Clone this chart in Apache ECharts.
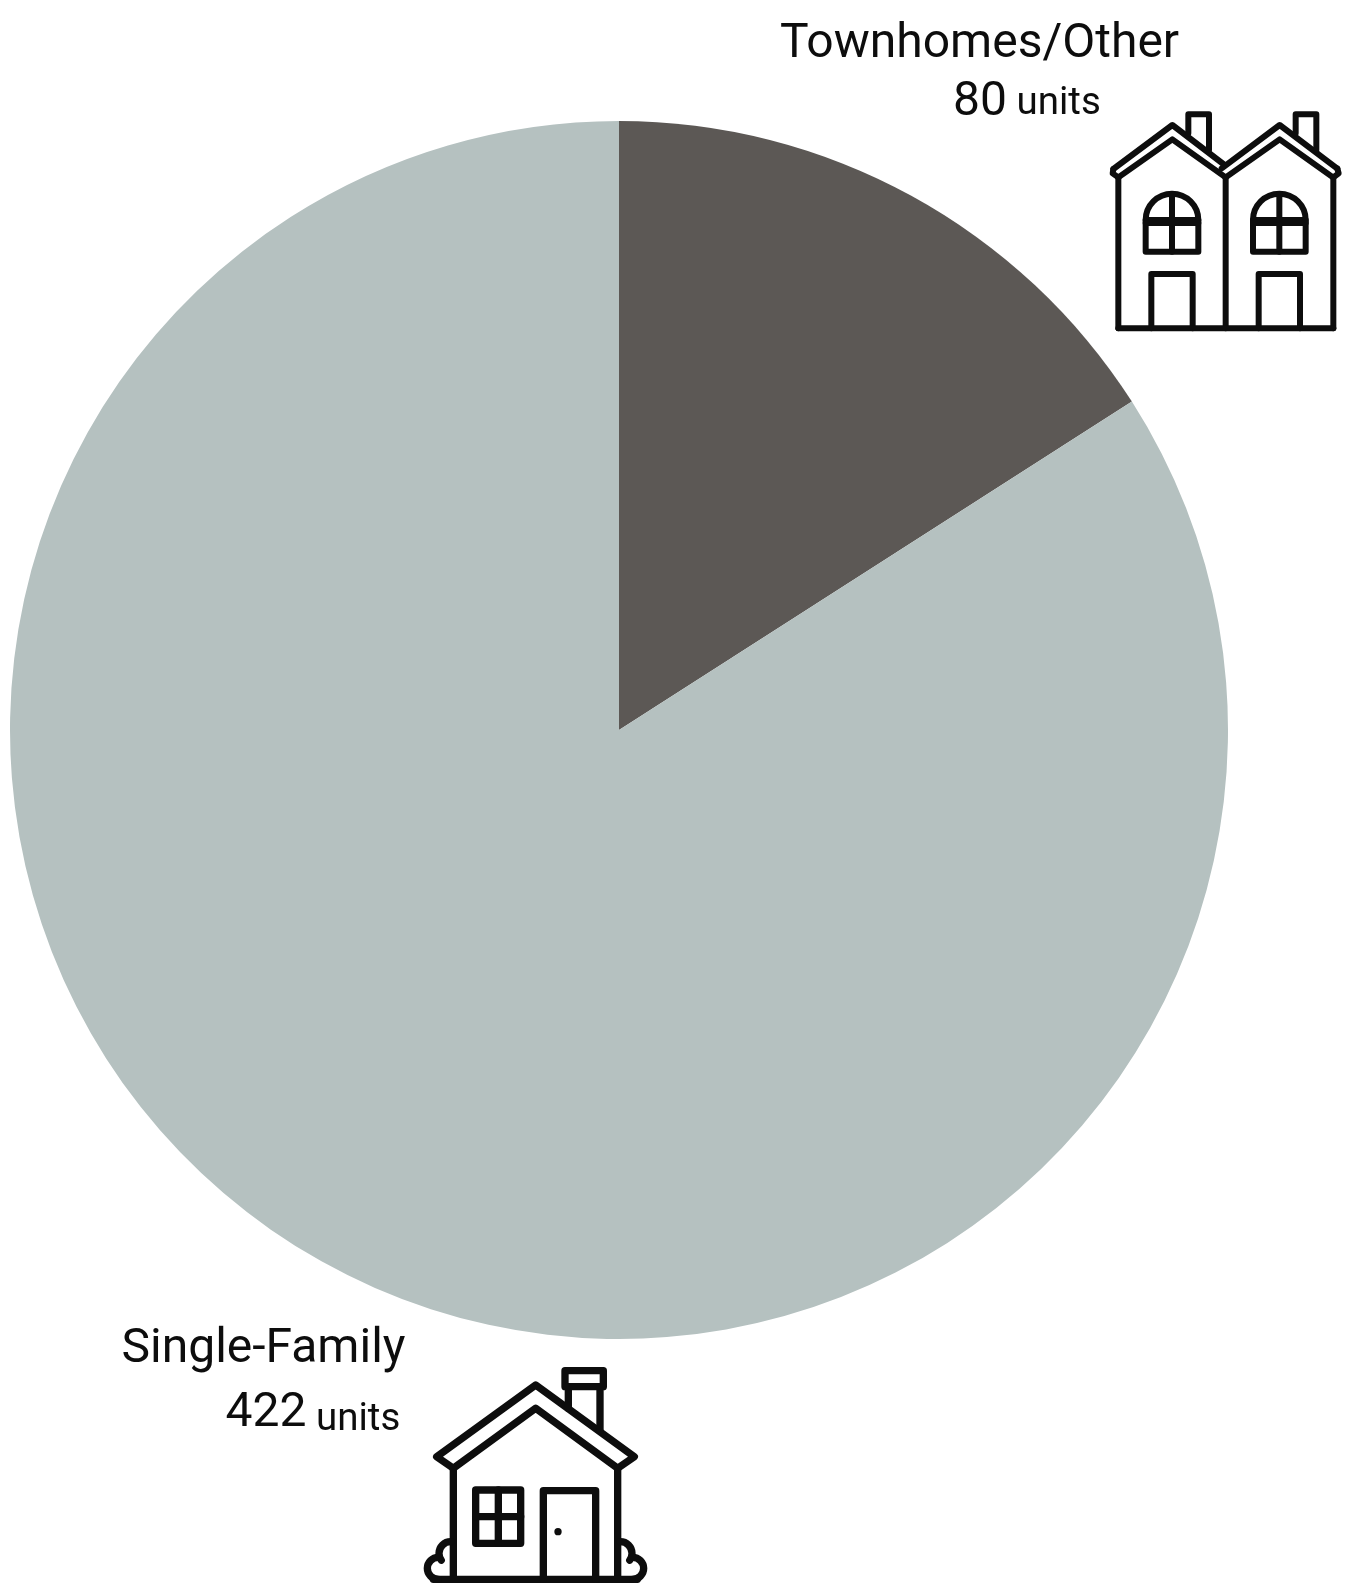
<!DOCTYPE html>
<html><head><meta charset="utf-8">
<style>html,body{margin:0;padding:0;background:#fff}#c{width:1345px;height:1587px}</style>
<script src="https://cdn.jsdelivr.net/npm/echarts@6/dist/echarts.min.js"></script>
</head><body><div id="c"></div>
<script>
const categories = ['Townhomes/Other', 'Single-Family'];
const units = [80, 422];
const sliceColors = ['#5c5855', '#b5c1c0'];

const ink = '#0d0d0d';
const st = w => ({stroke: ink, lineWidth: w, fill: null, lineJoin: 'round', lineCap: 'round'});
const poly = (pts, w) => ({type: 'polyline', shape: {points: pts}, style: st(w), silent: true});
const gon = (pts, w) => ({type: 'polygon', shape: {points: pts}, style: st(w), silent: true});
const arc = (cx, cy, r, a, b, w, cw) => ({type: 'arc', shape: {cx, cy, r, startAngle: a, endAngle: b, clockwise: cw}, style: st(w), silent: true});

const tw = 18;
function townUnit(dx) {
  const out = [];
  const X = x => x + dx;
  out.push(poly([[X(115), 262], [X(277), 148], [X(437), 262]], tw));
  out.push(poly([[X(325), 130], [X(325), 73], [X(387), 73], [X(387), 180]], tw));
  out.push(gon([[X(197), 390], [X(197), 485], [X(355), 485], [X(355), 390]], tw));
  out.push(arc(X(276), 390, 79, 0, Math.PI, tw, false));
  out.push(poly([[X(276), 312], [X(276), 485]], tw));
  out.push(poly([[X(197), 399], [X(355), 399]], tw));
  out.push(poly([[X(214), 715], [X(214), 552], [X(338), 552], [X(338), 715]], tw));
  return out;
}
const townChildren = [
  poly([[100, 237], [277, 105], [430, 222]], tw),
  ...townUnit(0),
  poly([[425, 235], [599, 105], [772, 236]], tw),
  ...townUnit(322),
  poly([[100, 237], [98, 250], [115, 262]], tw),
  poly([[772, 236], [776, 250], [760, 262]], tw),
  poly([[115, 262], [115, 715]], tw),
  poly([[437, 262], [437, 715]], tw),
  poly([[760, 262], [760, 715]], tw),
  poly([[115, 715], [760, 715]], tw)
];

const hw = 22;
const houseChildren = [
  gon([[110, 350], [407, 135], [703, 350], [653, 385], [407, 205], [160, 385]], hw),
  poly([[160, 385], [160, 718]], hw),
  poly([[653, 385], [653, 718]], hw),
  poly([[100, 718], [712, 718]], hw),
  poly([[505, 205], [505, 145]], hw),
  poly([[600, 145], [600, 272]], hw),
  gon([[495, 92], [610, 92], [610, 140], [495, 140]], hw),
  gon([[227, 450], [362, 450], [362, 610], [227, 610]], hw),
  poly([[295, 450], [295, 610]], hw),
  poly([[227, 530], [362, 530]], hw),
  poly([[430, 718], [430, 452], [587, 452], [587, 718]], hw),
  {type: 'circle', shape: {cx: 474, cy: 575, r: 11}, style: {fill: ink}, silent: true},
  arc(152, 640, 35, -Math.PI / 2, Math.PI * 0.8, hw, false),
  arc(115, 685, 33, -Math.PI / 2, Math.PI / 2, hw, false),
  arc(661, 640, 35, -Math.PI / 2, Math.PI * 0.2, hw, true),
  arc(698, 685, 33, -Math.PI / 2, Math.PI / 2, hw, true)
];

const labelBoxes = [
  {x: 780, y: 16, pad: 173, line: 58, drop: 3},
  {x: 121.5, y: 1318, pad: 104, line: 64, drop: 13}
];

const chart = echarts.init(document.getElementById('c'), null, {renderer: 'canvas'});
chart.setOption({
  animation: false,
  backgroundColor: '#ffffff',
  series: [{
    type: 'pie',
    center: [619, 730],
    radius: [0, 609],
    startAngle: 90,
    clockwise: true,
    silent: true,
    data: categories.map((name, i) => ({
      name, value: units[i],
      itemStyle: {color: sliceColors[i]},
      label: {
        formatter: '{n|{b}}\n{v|{c}}{u| units}',
        overflow: 'none',
        rich: {
          n: {fontFamily: 'Roboto', fontSize: 48, lineHeight: labelBoxes[i].line, color: '#0d0d0d'},
          v: {fontFamily: 'Roboto', fontSize: 48, lineHeight: labelBoxes[i].line, color: '#0d0d0d', padding: [0, 0, 0, labelBoxes[i].pad]},
          u: {fontFamily: 'Roboto', fontSize: 38.5, lineHeight: labelBoxes[i].line, color: '#0d0d0d', padding: [labelBoxes[i].drop, 0, 0, 0]}
        }
      }
    })),
    label: {show: true, position: 'outside', align: 'left', overflow: 'none'},
    labelLine: {show: false},
    labelLayout: p => ({x: labelBoxes[p.dataIndex].x, y: labelBoxes[p.dataIndex].y, align: 'left', verticalAlign: 'top', hideOverlap: false})
  }],
  graphic: [
    {type: 'group', x: 1080, y: 90, scaleX: 1 / 3, scaleY: 1 / 3, children: townChildren},
    {type: 'group', x: 400, y: 1340, scaleX: 1 / 3, scaleY: 1 / 3, children: houseChildren}
  ]
});
</script></body></html>
